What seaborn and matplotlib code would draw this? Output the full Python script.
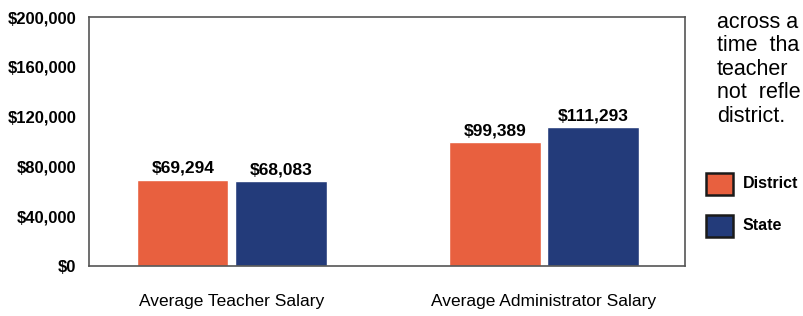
import matplotlib
matplotlib.use("Agg")
import matplotlib.pyplot as plt
import matplotlib.patches as mpatches
import seaborn as sns
import pandas as pd

categories = ["Average Teacher Salary", "Average Administrator Salary"]
groups = ["District", "State"]
district_values = [69294, 99389]
state_values = [68083, 111293]
ytick_values = [0, 40000, 80000, 120000, 160000, 200000]
side_lines = ["across a", "time  tha", "teacher", "not  refle", "district."]

colors = {"District": "#E8603F", "State": "#233B7A"}

df = pd.DataFrame({
    "category": categories * 2,
    "group": ["District"] * len(categories) + ["State"] * len(categories),
    "salary": district_values + state_values,
})

sns.set_style("white")
plt.rcParams["font.family"] = ["Liberation Sans", "DejaVu Sans"]
plt.rcParams["text.color"] = "black"

fig = plt.figure(figsize=(8.04, 3.16), dpi=100)
ax = fig.add_axes([89 / 804, 1 - 266 / 316, 596 / 804, 249 / 316])

sns.barplot(data=df, x="category", y="salary", hue="group", order=categories,
            hue_order=groups, palette=colors, width=0.63, gap=0.07,
            saturation=1, legend=False, ax=ax)

ax.set_xlim(-0.458, 1.452)
ax.set_ylim(0, 200000)
ax.set_yticks(ytick_values)
ax.set_yticklabels([f"${v:,}" for v in ytick_values], fontsize=12,
                   fontweight="bold", color="black")
ax.tick_params(axis="y", length=0, pad=9)
ax.tick_params(axis="x", length=0, pad=20)
for lbl in ax.get_xticklabels():
    lbl.set_fontsize(12.5)
    lbl.set_color("black")
    lbl.set_fontweight("medium")
ax.set_xlabel("")
ax.set_ylabel("")
for s in ax.spines.values():
    s.set_color("#555555")
    s.set_linewidth(1.2)

for cont in ax.containers:
    ax.bar_label(cont, labels=[f"${v:,.0f}" for v in cont.datavalues], padding=3,
                 fontsize=12.5, fontweight="bold", color="black")

# paragraph text cut at the right edge
for i, line in enumerate(side_lines):
    fig.text(717 / 804, 1 - (22 + i * 23.5) / 316, line, fontsize=15.5,
             va="center", ha="left")

# legend
for i, g in enumerate(groups):
    yc = 184 + i * 42
    fig.patches.append(mpatches.Rectangle((706 / 804, 1 - (yc + 11) / 316), 27 / 804, 22 / 316,
                                          transform=fig.transFigure, facecolor=colors[g],
                                          edgecolor="#1a1a1a", linewidth=1.8))
    fig.text(743 / 804, 1 - yc / 316, g, fontsize=11.5, fontweight="bold", va="center", ha="left")

fig.savefig("out.png", dpi=100, facecolor="white")
